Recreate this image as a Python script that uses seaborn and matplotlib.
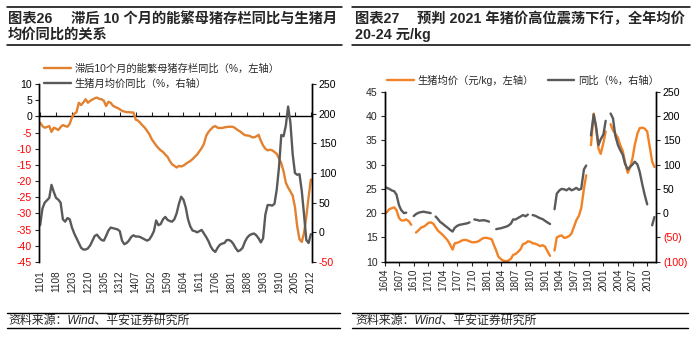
import numpy as np
import pandas as pd
import matplotlib
matplotlib.use("Agg")
import matplotlib.pyplot as plt
import seaborn as sns
from matplotlib.lines import Line2D
from matplotlib.ticker import FuncFormatter, MultipleLocator

# ---------------- data: chart 26 (monthly 2011-01 .. 2020-12) ----------------
months26 = pd.period_range("2011-01", "2020-12", freq="M").strftime("%y%m").tolist()
tick26 = ["1101", "1108", "1203", "1210", "1305", "1312", "1407", "1502", "1509",
          "1604", "1611", "1706", "1801", "1808", "1903", "1910", "2005", "2012"]
# lagged (10 months) breeding sow inventory YoY, % (left axis)
sow_yoy = [-2.0, -3.0, -3.5, -3.3, -3.0, -4.8, -3.5, -3.8, -4.2, -3.3,
           -2.7, -3.0, -3.2, -2.3, -0.3, 0.8, 1.3, 4.2, 3.5, 4.3,
           5.3, 4.2, 4.8, 5.2, 5.6, 5.8, 5.4, 5.3, 4.8, 3.2,
           4.5, 4.2, 3.3, 2.9, 2.6, 2.2, 1.7, 1.5, 1.3, 1.3,
           1.2, 1.2, -1.0, -1.3, -2.0, -2.8, -3.5, -4.5, -5.5, -7.0,
           -8.0, -9.0, -9.8, -10.5, -11.0, -11.8, -12.5, -13.8, -14.8, -15.3,
           -15.8, -15.3, -15.5, -15.2, -14.7, -14.2, -13.8, -13.2, -12.5, -11.8,
           -10.8, -9.8, -8.5, -6.0, -4.8, -4.0, -3.3, -3.0, -3.5, -3.6,
           -3.6, -3.4, -3.3, -3.2, -3.2, -3.3, -3.8, -4.3, -4.7, -5.3,
           -5.8, -5.9, -6.0, -6.4, -6.5, -6.2, -5.7, -7.5, -9.0, -10.0,
           -10.5, -10.3, -10.5, -11.0, -11.6, -13.0, -14.5, -17.0, -20.5, -22.0,
           -23.2, -24.5, -28.0, -34.0, -38.0, -38.8, -36.0, -31.0, -25.0, -19.5]
# monthly average hog price YoY, % (right axis)
hog_yoy26 = [12, 40, 50, 54, 58, 80, 68, 58, 55, 50,
             22, 18, 24, 22, 8, -2, -10, -18, -26, -29,
             -29, -27, -22, -14, -6, -4, -9, -13, -14, -6,
             3, 8, 7, 6, 5, 2, -14, -20, -18, -14,
             -8, -5, -7, -7, -8, -10, -12, -14, -12, -6,
             2, 20, 12, 14, 22, 26, 21, 19, 18, 22,
             32, 48, 60, 55, 42, 22, 10, 3, 2, 0,
             2, 4, -2, -8, -15, -24, -30, -33, -26, -21,
             -19, -18, -13, -13, -15, -20, -27, -32, -30, -26,
             -16, -9, -5, -3, -2, -5, -10, -17, -10, 30,
             46, 46, 45, 48, 72, 110, 164, 162, 180, 212,
             185, 132, 100, 97, 98, 70, 30, -13, -18, -3]

# ---------------- data: chart 27 (semi-monthly 2016-04 .. 2020-11) ----------------
dates27 = pd.date_range("2016-04-01", periods=112, freq="SMS")
tick27 = ["1604", "1607", "1610", "1701", "1704", "1707", "1710", "1801", "1804",
          "1807", "1810", "1901", "1904", "1907", "1910", "2001", "2004", "2007", "2010"]
nan = np.nan
price27 = [19.8, 20.2, 20.8, 21.0, 21.2, 20.6, 19.0, 18.5, 18.5, 18.7,
           18.3, 17.6, nan, 16.0, 16.5, 17.0, 17.2, 17.5, 18.0, 18.1,
           17.8, 17.1, 16.4, 16.0, 15.5, 15.0, 14.4, 13.6, 12.5, 13.8,
           13.9, 14.1, 14.4, 14.5, 14.4, 14.2, 14.0, 14.0, 14.1, 14.3,
           14.7, 14.9, 14.9, 14.8, 14.6, 13.4, 12.3, 11.0, 10.5, 10.2,
           10.1, 10.2, 10.6, 11.4, 11.6, 12.0, 12.6, 13.6, 13.8, 14.2,
           14.1, 13.8, 13.7, 13.5, 13.2, 13.4, 13.1, 12.2, 11.2, nan,
           12.3, 15.0, 15.3, 15.4, 14.9, 15.0, 15.3, 15.8, 17.2, 18.5,
           19.5, 21.0, 25.0, 27.8, nan, 34.0, 40.5, 37.8, 33.3, 32.2,
           34.5, 36.8, nan, 38.3, 37.0, 36.4, 35.5, 34.0, 32.8, 30.5,
           28.3, 29.3, 31.3, 34.0, 36.4, 37.5, 37.6, 37.4, 36.8, 34.0,
           30.6, 29.5]
yoy27 = [56, 52, 50, 47, 45, 38, 16, 6, 0, 1,
         nan, nan, -6, -2, 1, 2, 3, 2, 1, 0,
         nan, -7, -12, -18, -22, -26, -30, -34, -38, -30,
         -26, -24, -23, -22, -21, -19, nan, -13, -14, -15.5,
         -15, -14.5, -16, -17.5, nan, nan, -33, -32, -31, -29.5,
         -28, -26, -21.5, -13, -13, -10, -7, -4, -6.5, -3,
         nan, -4, -5.5, -8, -10.6, -12, -16, -19, -22.4, nan,
         8, 40, 47, 50, 49, 47, 51, 47, 49, 52,
         48, 50, 90, 98, nan, 160, 203, 180, 140, 152,
         162, 190, nan, 205, 195, 160, 140, 130, 120, 102,
         90, 95, 100, 106, 100, 85, 58, 38, 18, nan,
         -25, -8]

# ---------------- style ----------------
sns.set_theme(style="white")
plt.rcParams["font.family"] = ["Liberation Sans", "Noto Sans CJK SC", "DejaVu Sans"]
plt.rcParams["axes.unicode_minus"] = False

ORANGE26 = "#E2812F"
ORANGE27 = "#F28226"
GREY = "#5A5A5A"
RED = "#FF0000"
LW = 1.7
W, H = 697, 337

fig = plt.figure(figsize=(W / 100, H / 100), dpi=100)

def fx(px):
    return px / W

def fy(py):
    return 1 - py / H

def hline(x0, x1, y, lw=1.1):
    fig.add_artist(Line2D([fx(x0), fx(x1)], [fy(y), fy(y)], transform=fig.transFigure,
                          color="black", lw=lw))

def segments(values):
    s = pd.Series(values, dtype=float)
    return s.isna().cumsum()

CJK = ["Liberation Sans", "Noto Sans CJK SC"]

# ---------------- titles / footers ----------------
hline(7, 342, 7)
hline(7, 342, 45)
hline(352, 690, 7)
hline(352, 690, 45)
fig.text(fx(8), fy(18.5), "图表26", fontsize=10.3, fontweight="bold", va="center", family=CJK)
fig.text(fx(71), fy(18.5), "滞后 10 个月的能繁母猪存栏同比与生猪月", fontsize=10.3,
         fontweight="bold", va="center", family=CJK)
fig.text(fx(8), fy(34.5), "均价同比的关系", fontsize=10.3, fontweight="bold", va="center", family=CJK)
fig.text(fx(355), fy(18.5), "图表27", fontsize=10.3, fontweight="bold", va="center", family=CJK)
fig.text(fx(417), fy(18.5), "预判 2021 年猪价高位震荡下行，全年均价", fontsize=10.3,
         fontweight="bold", va="center", family=CJK)
fig.text(fx(355), fy(34.5), "20-24 元/kg", fontsize=10.3, fontweight="bold", va="center", family=CJK)

hline(7, 340, 312.7, lw=1.0)
hline(7, 340, 328, lw=1.0)
hline(352, 688, 312.7, lw=1.0)
hline(352, 688, 328, lw=1.0)
fig.text(fx(8), fy(321), "资料来源：Wind、平安证券研究所", fontsize=8.6, va="center",
         style="italic", family=CJK)
fig.text(fx(355), fy(321), "资料来源：Wind、平安证券研究所", fontsize=8.6, va="center",
         style="italic", family=CJK)

# ---------------- chart 26 ----------------
df26 = pd.DataFrame({"idx": np.arange(len(months26)), "month": months26,
                     "sow": sow_yoy, "hog": hog_yoy26})
ax1 = fig.add_axes([fx(39), fy(262), fx(312) - fx(39), fy(84) - fy(262)])
ax1b = ax1.twinx()
sns.lineplot(data=df26, x="idx", y="sow", ax=ax1, color=ORANGE26, lw=LW)
sns.lineplot(data=df26, x="idx", y="hog", ax=ax1b, color=GREY, lw=LW)
ax1.set_xlim(-0.5, len(months26) - 0.5)
ax1.set_ylim(-45, 10)
ax1b.set_ylim(-50, 250)
ax1.yaxis.set_major_locator(MultipleLocator(5))
ax1b.yaxis.set_major_locator(MultipleLocator(50))
tpos26 = [months26.index(t) for t in tick26]
ax1.set_xticks(tpos26)
ax1.set_xticklabels(tick26, rotation=90, fontsize=7.2)
ax1.tick_params(axis="x", length=0, pad=6)
ax1.tick_params(axis="y", direction="out", length=3, width=0.8, labelsize=7.6, pad=2, left=True)
ax1b.tick_params(axis="y", direction="out", length=3, width=0.8, labelsize=7.6, pad=2, right=True)
for a in (ax1, ax1b):
    a.set_xlabel("")
    a.set_ylabel("")
    a.spines["top"].set_visible(False)
    a.spines["bottom"].set_visible(False)
    a.spines["left"].set_color("black")
    a.spines["right"].set_color("black")
    a.spines["left"].set_linewidth(1.0)
    a.spines["right"].set_linewidth(1.0)
ax1.yaxis.set_major_formatter(FuncFormatter(lambda v, p: f"{v:.0f}"))
ax1b.yaxis.set_major_formatter(FuncFormatter(lambda v, p: f"{v:.0f}"))
fig.canvas.draw()
for lab, v in zip(ax1.get_yticklabels(), ax1.get_yticks()):
    lab.set_color(RED if v < 0 else "black")
for lab, v in zip(ax1b.get_yticklabels(), ax1b.get_yticks()):
    lab.set_color(RED if v < 0 else "black")
# zero axis line with ticks
zero_loc = (0 - (-45)) / (10 - (-45))
sec = ax1.secondary_xaxis(zero_loc)
sec.set_xticks(tpos26)
sec.tick_params(axis="x", direction="out", length=3, width=0.8, labeltop=False, labelbottom=False)
for sp in sec.spines.values():
    sp.set_color("black")
    sp.set_linewidth(1.0)

h1 = [Line2D([], [], color=ORANGE26, lw=LW), Line2D([], [], color=GREY, lw=LW)]
ax1.legend(h1, ["滞后10个月的能繁母猪存栏同比（%，左轴）", "生猪月均价同比（%，右轴）"],
           loc="upper left", bbox_to_anchor=(fx(44), fy(63.5)), bbox_transform=fig.transFigure,
           frameon=False, handlelength=2.6, handletextpad=0.4,
           labelspacing=0.45, borderpad=0, borderaxespad=0, prop={"family": CJK, "size": 7.4})

# ---------------- chart 27 ----------------
df27 = pd.DataFrame({"date": dates27, "price": price27, "yoy": yoy27})
df27["seg_p"] = segments(price27)
df27["seg_y"] = segments(yoy27)
ax2 = fig.add_axes([fx(384.5), fy(261.7), fx(656) - fx(384.5), fy(91.7) - fy(261.7)])
ax2b = ax2.twinx()
sns.lineplot(data=df27.dropna(subset=["price"]), x="date", y="price", units="seg_p",
             estimator=None, ax=ax2, color=ORANGE27, lw=LW)
sns.lineplot(data=df27.dropna(subset=["yoy"]), x="date", y="yoy", units="seg_y",
             estimator=None, ax=ax2b, color=GREY, lw=LW)
ax2.set_xlim(pd.Timestamp("2016-04-01"), pd.Timestamp("2020-11-25"))
ax2.set_ylim(10, 45)
ax2b.set_ylim(-100, 250)
ax2.yaxis.set_major_locator(MultipleLocator(5))
ax2b.yaxis.set_major_locator(MultipleLocator(50))
tpos27 = [pd.Timestamp(f"20{t[:2]}-{t[2:]}-01") for t in tick27]
ax2.set_xticks(tpos27)
ax2.set_xticklabels(tick27, rotation=90, fontsize=7.2)
ax2.tick_params(axis="x", direction="out", length=3, width=0.8, pad=2, bottom=True)
ax2.tick_params(axis="y", direction="out", length=3, width=0.8, labelsize=7.6, pad=2, left=True)
ax2b.tick_params(axis="y", direction="out", length=3, width=0.8, labelsize=7.6, pad=2, right=True)
for a in (ax2, ax2b):
    a.set_xlabel("")
    a.set_ylabel("")
    a.spines["top"].set_visible(False)
    for s in ("left", "right", "bottom"):
        a.spines[s].set_color("black")
        a.spines[s].set_linewidth(1.0)
ax2.yaxis.set_major_formatter(FuncFormatter(lambda v, p: f"{v:.0f}"))
ax2b.yaxis.set_major_formatter(FuncFormatter(lambda v, p: f"({-v:.0f})" if v < 0 else f"{v:.0f}"))
fig.canvas.draw()
for lab, v in zip(ax2b.get_yticklabels(), ax2b.get_yticks()):
    lab.set_color(RED if v < 0 else "black")

h2 = [Line2D([], [], color=ORANGE27, lw=LW), Line2D([], [], color=GREY, lw=LW)]
ax2.legend(h2, ["生猪均价（元/kg，左轴）", "同比（%，右轴）"], ncol=2,
           loc="upper left", bbox_to_anchor=(fx(387), fy(75)), bbox_transform=fig.transFigure,
           frameon=False, handlelength=2.6, handletextpad=0.4, columnspacing=1.3,
           borderpad=0, borderaxespad=0, prop={"family": CJK, "size": 7.4})

fig.savefig("out.png", dpi=100)
